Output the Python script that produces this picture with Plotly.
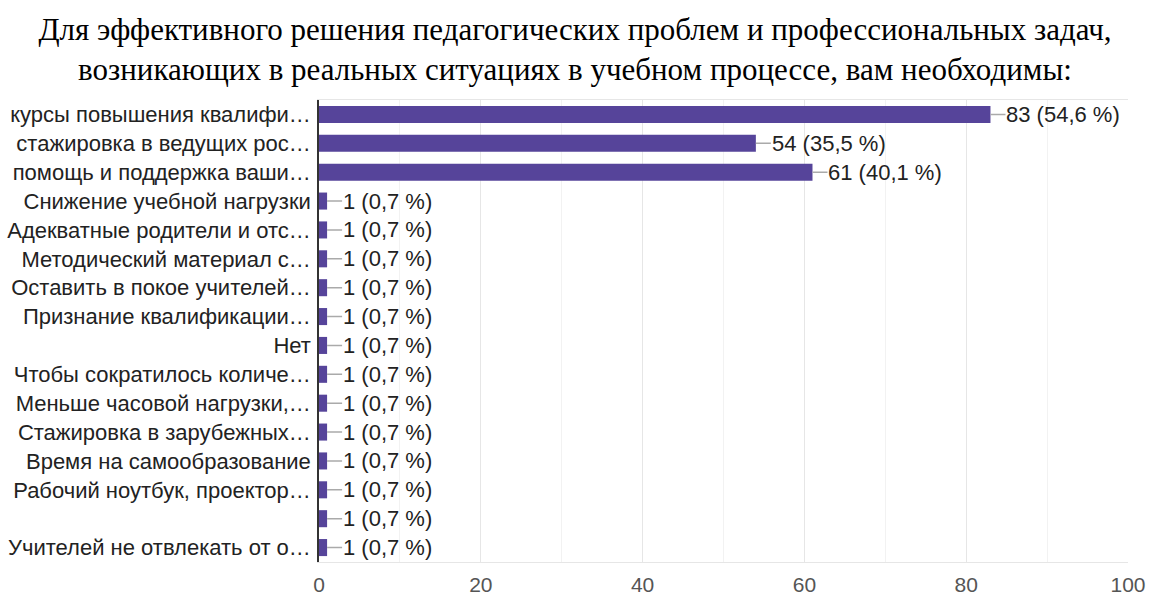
import plotly.graph_objects as go

categories = [
    "курсы повышения квалифи…",
    "стажировка в ведущих рос…",
    "помощь и поддержка ваши…",
    "Снижение учебной нагрузки",
    "Адекватные родители и отс…",
    "Методический материал с…",
    "Оставить в покое учителей…",
    "Признание квалификации…",
    "Нет",
    "Чтобы сократилось количе…",
    "Меньше часовой нагрузки,…",
    "Стажировка в зарубежных…",
    "Время на самообразование",
    "Рабочий ноутбук, проектор…",
    " ",
    "Учителей не отвлекать от о…",
]
counts = [83, 54, 61, 1, 1, 1, 1, 1, 1, 1, 1, 1, 1, 1, 1, 1]
percents = ["54,6", "35,5", "40,1", "0,7", "0,7", "0,7", "0,7", "0,7",
            "0,7", "0,7", "0,7", "0,7", "0,7", "0,7", "0,7", "0,7"]
x_ticks = [0, 20, 40, 60, 80, 100]

title = ("Для эффективного решения педагогических проблем и профессиональных задач,<br>"
         "возникающих в реальных ситуациях в учебном процессе, вам необходимы:")

W, H = 1150, 597

fig = go.Figure()
fig.add_trace(go.Bar(
    x=counts, y=categories, orientation="h",
    marker=dict(color="#56449a", line=dict(width=0)),
    hoverinfo="x+y",
))

for c, v, p in zip(categories, counts, percents):
    fig.add_annotation(
        x=v, y=c, xref="x", yref="y",
        text=f"{v} ({p} %)",
        showarrow=True, arrowhead=0, arrowwidth=1.5, arrowcolor="#aaaaaa",
        ax=15, ay=0, xanchor="left", standoff=0, startstandoff=0,
        font=dict(family="Liberation Sans, Arial", size=22, color="#222222"),
        borderpad=0,
    )

fig.update_layout(
    width=W, height=H,
    paper_bgcolor="white", plot_bgcolor="white",
    margin=dict(l=319, r=22, t=100, b=35, autoexpand=False),
    title=dict(text=title, x=0.5, xref="container", xanchor="center",
               yref="container", y=1 - 40 / H, yanchor="middle",
               font=dict(family="Liberation Serif, Times New Roman", size=31, color="#000000")),
    bargap=0.41,
    showlegend=False,
)
fig.update_xaxes(
    range=[0, 100], tickvals=x_ticks, ticks="",
    showgrid=True, gridcolor="#e6e6e6", gridwidth=1,
    minor=dict(dtick=10, showgrid=True, gridcolor="#f2f2f2"),
    showline=True, linecolor="#e6e6e6", mirror=True,
    zeroline=False, automargin=False,
    tickfont=dict(family="Liberation Sans, Arial", size=21, color="#555555"),
    ticklabelstandoff=4,
)
fig.update_yaxes(
    categoryorder="array", categoryarray=categories,
    autorange="reversed",
    showline=True, linecolor="#333333", linewidth=1.5,
    ticks="", showgrid=False, automargin=False,
    tickfont=dict(family="Liberation Sans, Arial", size=22, color="#222222"),
    ticklabelstandoff=2,
)

fig.write_html(
    "out.html",
    config={"displayModeBar": False},
    post_script="document.body.style.margin='0';document.body.style.overflow='hidden';",
)
